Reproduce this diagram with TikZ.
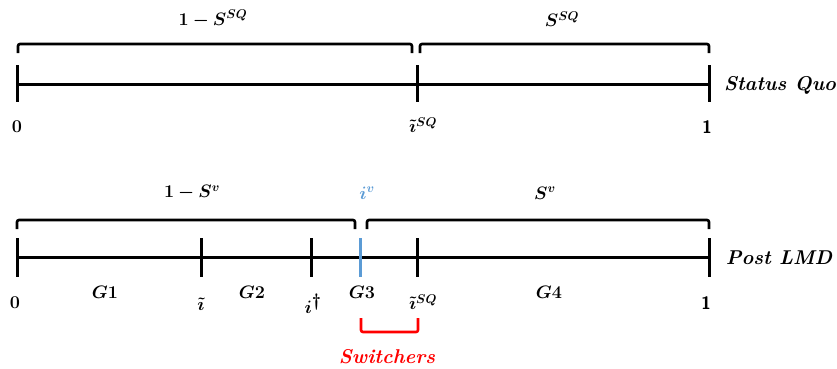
\documentclass[tikz,border=0pt]{standalone}
\usepackage{fix-cm}
\usepackage{amsmath,amssymb,bm}
\usepackage{xcolor}
\usepackage{tikz}
\usetikzlibrary{positioning}
\definecolor{lmdblue}{HTML}{5B9BD5}
\definecolor{lmdred}{HTML}{FF0000}

\begin{document}
\begin{tikzpicture}[x=1pt,y=-1pt,font=\fontsize{18}{21}\selectfont,
    axisline/.style={line width=3pt},
    notch/.style={line width=3pt},
    brace/.style={line width=2.6pt,rounded corners=2pt},
    rowname/.style={font=\fontsize{20}{24}\selectfont\bfseries\itshape}]
    \useasboundingbox (0,0) rectangle (837,368);
    % status quo
    \coordinate (sq0) at (17,84);
    \coordinate (sq1) at (709,84);
    \draw[axisline] (sq0) -- (sq1);
    \foreach \x in {17,417,709} \draw[notch] (\x,65) -- (\x,102);
    \draw[brace] (18,53) -- (18,44) -- (412,44) -- (412,53);
    \draw[brace] (420,53) -- (420,44) -- (709,44) -- (709,53);
    \node (sqleft) at (213,19) {$\bm{1-S^{SQ}}$};
    \node (sqright) at (562,19) {$\bm{S^{SQ}}$};
    \node (sqzero) at (17,127) {$\bm{0}$};
    \node (sqcut) at (423,125) {$\bm{\tilde{\imath}^{SQ}}$};
    \node (sqone) at (707,127) {\sffamily\bfseries 1};
    \node[rowname] (sqname) at (780,85) {Status Quo};
    % post LMD
    \coordinate (pl0) at (17,257);
    \coordinate (pl1) at (709,257);
    \draw[axisline] (pl0) -- (pl1);
    \foreach \x in {17,201,311,417,709} \draw[notch] (\x,238) -- (\x,277);
    \draw[notch,lmdblue] (360,238) -- (360,277);
    \draw[brace] (17,229) -- (17,220) -- (355,220) -- (355,229);
    \draw[brace] (367,229) -- (367,220) -- (709,220) -- (709,229);
    \node (plleft) at (192,193) {$\bm{1-S^{v}}$};
    \node[lmdblue] (plcut) at (367,193) {$\bm{i^{v}}$};
    \node (plright) at (545,193) {$\bm{S^{v}}$};
    \node (plzero) at (15,303) {$\bm{0}$};
    \node (gone) at (105,292) {$\bm{G1}$};
    \node (pltilde) at (201,304) {$\bm{\tilde{\imath}}$};
    \node (gtwo) at (252,292) {$\bm{G2}$};
    \node (pldagger) at (313,304) {$\bm{i}^{\textstyle\bm{\dagger}}$};
    \node (gthree) at (362,292) {$\bm{G3}$};
    \node (plsq) at (423,302) {$\bm{\tilde{\imath}^{SQ}}$};
    \node (gfour) at (549,292) {$\bm{G4}$};
    \node (plone) at (706,303) {\sffamily\bfseries 1};
    \node[rowname] (plname) at (779,258) {Post LMD};
    % switchers
    \draw[brace,lmdred] (361,318) -- (361,332) -- (418,332) -- (418,318);
    \node[rowname,lmdred] (switch) at (387,357) {Switchers};
\end{tikzpicture}
\end{document}
